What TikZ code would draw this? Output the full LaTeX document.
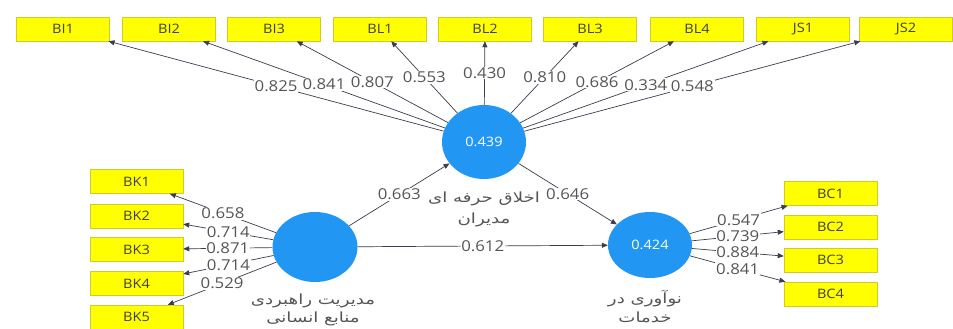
\documentclass[tikz,border=0pt]{standalone}
\usepackage{fontspec}
\setmainfont{Open Sans}
\newfontfamily\widesans[FakeStretch=1.12]{Open Sans}
\newfontfamily\farsi[Script=Arabic, FakeStretch=1.3]{DejaVu Sans}
\TeXXeTstate=1
\usepackage{tikz}
\usetikzlibrary{arrows.meta}
\usetikzlibrary{shapes.geometric}

\definecolor{plsblue}{RGB}{33,150,243}
\definecolor{plsyellow}{RGB}{255,255,0}
\definecolor{plsline}{RGB}{60,60,80}
\definecolor{plsgray}{RGB}{85,85,85}

\tikzset{
  ind/.style={rectangle, fill=plsyellow, draw=yellow!80!black, line width=0.5pt,
    minimum width=93pt, minimum height=24pt, inner sep=0pt,
    font=\widesans\fontsize{13}{13}\selectfont, text=black!75},
  lv/.style={ellipse, fill=plsblue, minimum width=84pt, minimum height=74pt,
    inner sep=0pt, text=white, font=\widesans\fontsize{13}{13}\selectfont},
  lnk/.style={draw=plsline, line width=0.7pt, -{Triangle[length=6pt,width=5pt]}},
  coef/.style={fill=white, inner sep=0.8pt, text=plsgray, font=\widesans\fontsize{15}{15}\selectfont},
  lvname/.style={text=plsgray, align=center, font=\farsi\fontsize{14}{21}\selectfont}
}

\begin{document}
\begin{tikzpicture}[x=1pt, y=-1pt]
         \useasboundingbox[fill=white] (0,0) rectangle (953,329);
         \foreach \n/\x in {BI1/63, BI2/169, BI3/274, BL1/380, BL2/485, BL3/590, BL4/697, JS1/803, JS2/906}{
         \node[ind] (\n) at (\x, 29) {\n};
         }
         \foreach \n/\y in {BK1/181.5, BK2/216, BK3/249.5, BK4/283.5, BK5/317}{
         \node[ind] (\n) at (136.5, \y) {\n};
         }
         \foreach \n/\y in {BC1/193.5, BC2/227, BC3/260, BC4/294}{
         \node[ind] (\n) at (830.5, \y) {\n};
         }
         \node[lv] (ethics) at (484, 142) {0.439};
         \node[lv, minimum width=85pt, minimum height=70pt] (hrm) at (315, 247) {};
         \node[lv, minimum height=66pt] (innov) at (650, 245) {0.424};
         \node[lvname] (ethicsname) at (484, 209) {\beginR اخلاق حرفه ای\endR\\\beginR مدیران\endR};
         \node[lvname, font=\farsi\fontsize{14}{18}\selectfont] (hrmname) at (313, 310) {\beginR مدیریت راهبردی\endR\\\beginR منابع انسانی\endR};
         \node[lvname, font=\farsi\fontsize{14}{19}\selectfont] (innovname) at (645, 307) {\beginR نوآوری در\endR\\\beginR خدمات\endR};
         \foreach \n/\v in {BI1/0.825, BI2/0.841, BI3/0.807, BL1/0.553, BL2/0.430, BL3/0.810, BL4/0.686, JS1/0.334, JS2/0.548}{
         \draw[lnk] (ethics) -- node[coef] {\v} (\n);
         }
         \foreach \n/\v in {BK1/0.658, BK2/0.714, BK3/0.871, BK4/0.714, BK5/0.529}{
         \draw[lnk] (hrm) -- node[coef] {\v} (\n);
         }
         \foreach \n/\v in {BC1/0.547, BC2/0.739, BC3/0.884, BC4/0.841}{
         \draw[lnk] (innov) -- node[coef] {\v} (\n);
         }
         \draw[lnk] (hrm) -- node[coef] {0.663} (ethics);
         \draw[lnk] (ethics) -- node[coef] {0.646} (innov);
         \draw[lnk] (hrm) -- node[coef] {0.612} (innov);
        \end{tikzpicture}
\end{document}
